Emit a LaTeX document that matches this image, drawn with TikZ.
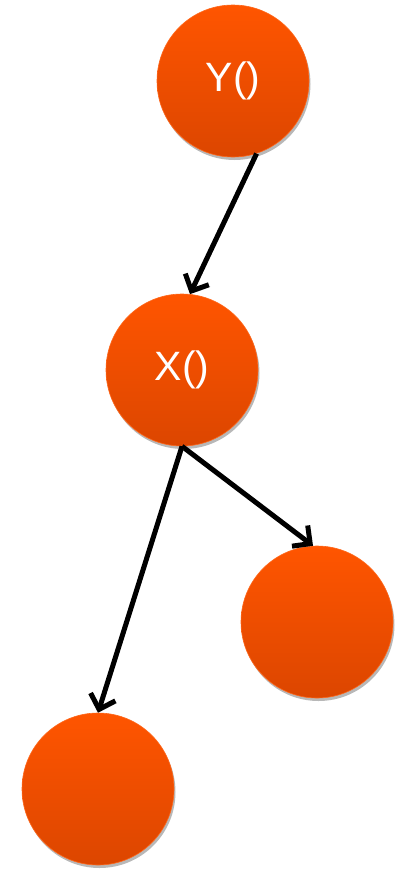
\documentclass[tikz,border=0pt]{standalone}
\usepackage{fontspec}
\setmainfont{Liberation Sans}
\usetikzlibrary{arrows.meta,shadows}
\definecolor{balltop}{HTML}{FF5500}
\definecolor{ballbot}{HTML}{DC4600}
\tikzset{
  ball/.style={circle, minimum size=152pt, inner sep=0pt,
    top color=balltop, bottom color=ballbot, draw=balltop!90!white, line width=0.6pt,
    drop shadow={shadow xshift=1.5pt, shadow yshift=-3pt, fill=gray!70, opacity=0.8},
    text=white, font=\fontsize{41}{44}\selectfont},
  call/.style={line width=5pt, -{Straight Barb[length=13pt, width=26pt, line width=5pt]},
    preaction={draw=gray!60, transform canvas={xshift=1.5pt, yshift=-2pt}}}
}
\begin{document}
\begin{tikzpicture}[x=1pt, y=-1pt]
% 402 x 870 = page size in px
\useasboundingbox (0,0) rectangle (402,870);
\node[ball] (Y) at (233,81) {Y()};
\node[ball] (X) at (182,370) {X()};
\node[ball] (R) at (317,622) {};
\node[ball] (L) at (98,789) {};
% calls
\draw[call] (Y.-72) -- (X.84);
\draw[call] (X.south) -- (R.93);
\draw[call] (X.south) -- (L.north);
\end{tikzpicture}
\end{document}
